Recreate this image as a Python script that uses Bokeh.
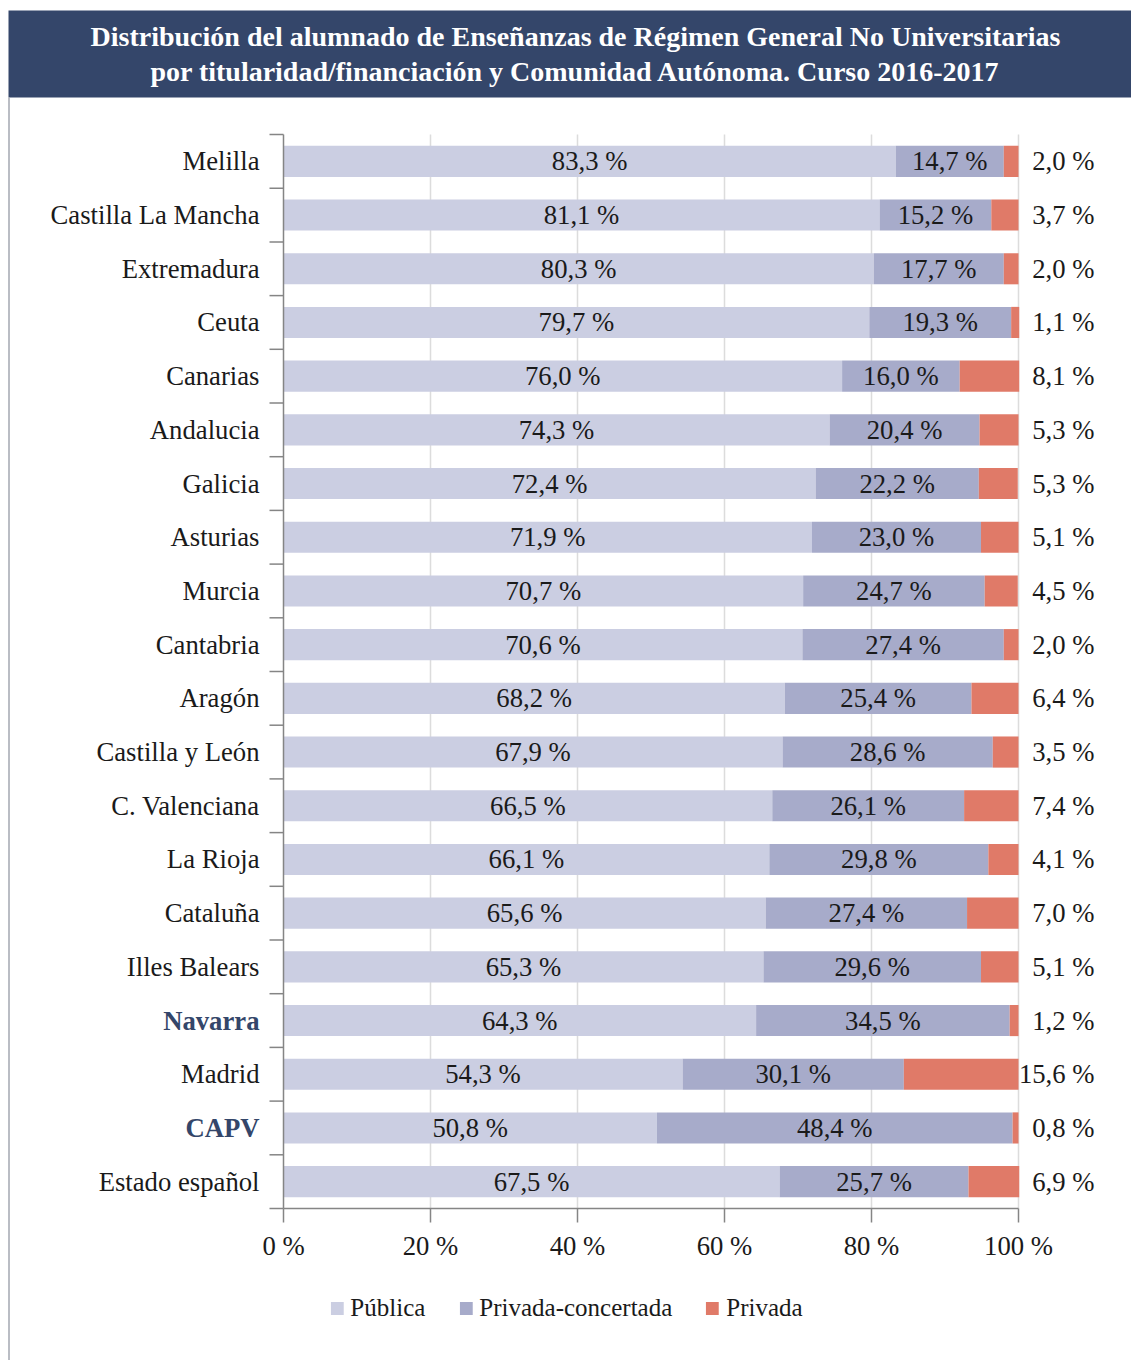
import math
from bokeh.plotting import figure
from bokeh.models import ColumnDataSource, Range1d, Legend, LegendItem
from bokeh.embed import file_html
from bokeh.resources import INLINE
from bokeh.core.properties import value

# ---------------- data ----------------
categories = ["Melilla", "Castilla La Mancha", "Extremadura", "Ceuta", "Canarias",
              "Andalucia", "Galicia", "Asturias", "Murcia", "Cantabria", "Aragón",
              "Castilla y León", "C. Valenciana", "La Rioja", "Cataluña",
              "Illes Balears", "Navarra", "Madrid", "CAPV", "Estado español"]
publica = [83.3, 81.1, 80.3, 79.7, 76.0, 74.3, 72.4, 71.9, 70.7, 70.6, 68.2, 67.9,
           66.5, 66.1, 65.6, 65.3, 64.3, 54.3, 50.8, 67.5]
concertada = [14.7, 15.2, 17.7, 19.3, 16.0, 20.4, 22.2, 23.0, 24.7, 27.4, 25.4, 28.6,
              26.1, 29.8, 27.4, 29.6, 34.5, 30.1, 48.4, 25.7]
privada = [2.0, 3.7, 2.0, 1.1, 8.1, 5.3, 5.3, 5.1, 4.5, 2.0, 6.4, 3.5,
           7.4, 4.1, 7.0, 5.1, 1.2, 15.6, 0.8, 6.9]
highlighted = ["Navarra", "CAPV"]
series_names = ["Pública", "Privada-concertada", "Privada"]
x_ticks = [0, 20, 40, 60, 80, 100]
x_tick_labels = ["0 %", "20 %", "40 %", "60 %", "80 %", "100 %"]
grid_ticks = [20, 40, 60, 80, 100]
title_lines = ["Distribución del alumnado de Enseñanzas de Régimen General No Universitarias",
               "por titularidad/financiación y Comunidad Autónoma. Curso 2016-2017"]

# ---------------- styles / layout ----------------
FONT = "Liberation Serif"
C_PUB = "#cbcee2"
C_CON = "#a7abca"
C_PRI = "#e07a68"
C_BANNER = "#34466a"
C_TEXT = "#1a1a1a"
C_AXIS = "#858585"
C_GRID = "#dcdcdc"
C_BORDER = "#a3a7b0"
FS = "26.7px"

W, H = 1131, 1360
PX_X = 7.35          # px per percent
PX_Y = 53.7          # px per row
X0 = 283             # page x of 0 %
Y0 = 1208            # page y of bottom boundary


def dx(px):
    return (px - X0) / PX_X


def dy(py):
    return (Y0 - py) / PX_Y


n = len(categories)
x_lo, x_hi = dx(0), dx(W)
y_lo, y_hi = dy(H), dy(0)


def fmt(v):
    return f"{v:.1f}".replace(".", ",") + " %"


yc = [n - i - 0.5 for i in range(n)]
con_end = [a + b for a, b in zip(publica, concertada)]
pri_end = [a + b + c for a, b, c in zip(publica, concertada, privada)]

src = ColumnDataSource(dict(
    y=yc, pub0=[0] * n, pub1=publica, con1=con_end, pri1=pri_end,
    pub_x=[v / 2 for v in publica],
    con_x=[a + b / 2 for a, b in zip(publica, concertada)],
    right_x=[100] * n,
    pub_t=[fmt(v) for v in publica],
    con_t=[fmt(v) for v in concertada],
    pri_t=[fmt(v) for v in privada],
))

p = figure(width=W, height=H, output_backend="svg", toolbar_location=None,
           x_range=Range1d(x_lo, x_hi), y_range=Range1d(y_lo, y_hi),
           x_axis_location=None, y_axis_location=None, min_border=0)
p.outline_line_color = None
p.xgrid.visible = False
p.ygrid.visible = False

# banner + left border line
p.quad(left=[dx(8)], right=[x_hi], top=[dy(10)], bottom=[dy(97)],
       fill_color=C_BANNER, line_color=None)
p.segment(x0=[dx(8.5)], x1=[dx(8.5)], y0=[dy(97)], y1=[y_lo],
          line_color=C_BORDER, line_width=1.5)
for line, base in zip(title_lines, [36, 71]):
    p.text(x=[dx(575)], y=[dy(base)], text=[line],
           text_font=value(FONT), text_font_style="bold", text_font_size="28px",
           text_color="white", text_align="center", text_baseline="alphabetic")

# grid
p.segment(x0=grid_ticks, x1=grid_ticks, y0=[0] * len(grid_ticks), y1=[n] * len(grid_ticks),
          line_color=C_GRID, line_width=1.5, level="underlay")

# bars
bh = 0.58
r_pub = p.hbar(y="y", left="pub0", right="pub1", height=bh, source=src, fill_color=C_PUB, line_color=None)
r_con = p.hbar(y="y", left="pub1", right="con1", height=bh, source=src, fill_color=C_CON, line_color=None)
r_pri = p.hbar(y="y", left="con1", right="pri1", height=bh, source=src, fill_color=C_PRI, line_color=None)

# axes (category boundaries and value ticks)
bounds = list(range(n + 1))
p.segment(x0=[0], x1=[0], y0=[0], y1=[n], line_color=C_AXIS, line_width=1.5)
p.segment(x0=[0], x1=[100], y0=[0], y1=[0], line_color=C_AXIS, line_width=1.5)
p.ray(x=[0] * len(bounds), y=bounds, length=14, length_units="screen", angle=math.pi,
      line_color=C_AXIS, line_width=1.5)
p.ray(x=x_ticks, y=[0] * len(x_ticks), length=14, length_units="screen", angle=-math.pi / 2,
      line_color=C_AXIS, line_width=1.5)
p.text(x=x_ticks, y=[0] * len(x_ticks), text=x_tick_labels, y_offset=37,
       text_font=value(FONT), text_font_size=FS, text_color=C_TEXT,
       text_align="center", text_baseline="alphabetic")

# bar labels
common = dict(text_font=value(FONT), text_font_size=FS, text_color=C_TEXT,
              text_baseline="alphabetic", y_offset=0)
p.text(x="pub_x", y="y", text="pub_t", source=src, text_align="center", **common)
p.text(x="con_x", y="y", text="con_t", source=src, text_align="center", **common)
p.text(x="right_x", y="y", text="pri_t", source=src, text_align="right", x_offset=76, **common)

# category labels
norm = [i for i, c in enumerate(categories) if c not in highlighted]
hil = [i for i, c in enumerate(categories) if c in highlighted]
p.text(x=[0] * len(norm), y=[yc[i] for i in norm], text=[categories[i] for i in norm],
       x_offset=-24, text_align="right", **common)
p.text(x=[0] * len(hil), y=[yc[i] for i in hil], text=[categories[i] for i in hil],
       x_offset=-24, text_align="right", text_font=value(FONT), text_font_size=FS,
       text_font_style="bold", text_color=C_BANNER, text_baseline="alphabetic", y_offset=0)

# legend
legend = Legend(items=[LegendItem(label=series_names[0], renderers=[r_pub]),
                       LegendItem(label=series_names[1], renderers=[r_con]),
                       LegendItem(label=series_names[2], renderers=[r_pri])],
                orientation="horizontal", location="bottom_center",
                label_text_font=FONT, label_text_font_size="25px", label_text_color=C_TEXT,
                glyph_width=16, glyph_height=16, label_standoff=6, spacing=32,
                border_line_color=None, background_fill_color=None,
                padding=5, margin=38)
p.add_layout(legend)

open("out.html", "w").write(file_html(p, INLINE))
